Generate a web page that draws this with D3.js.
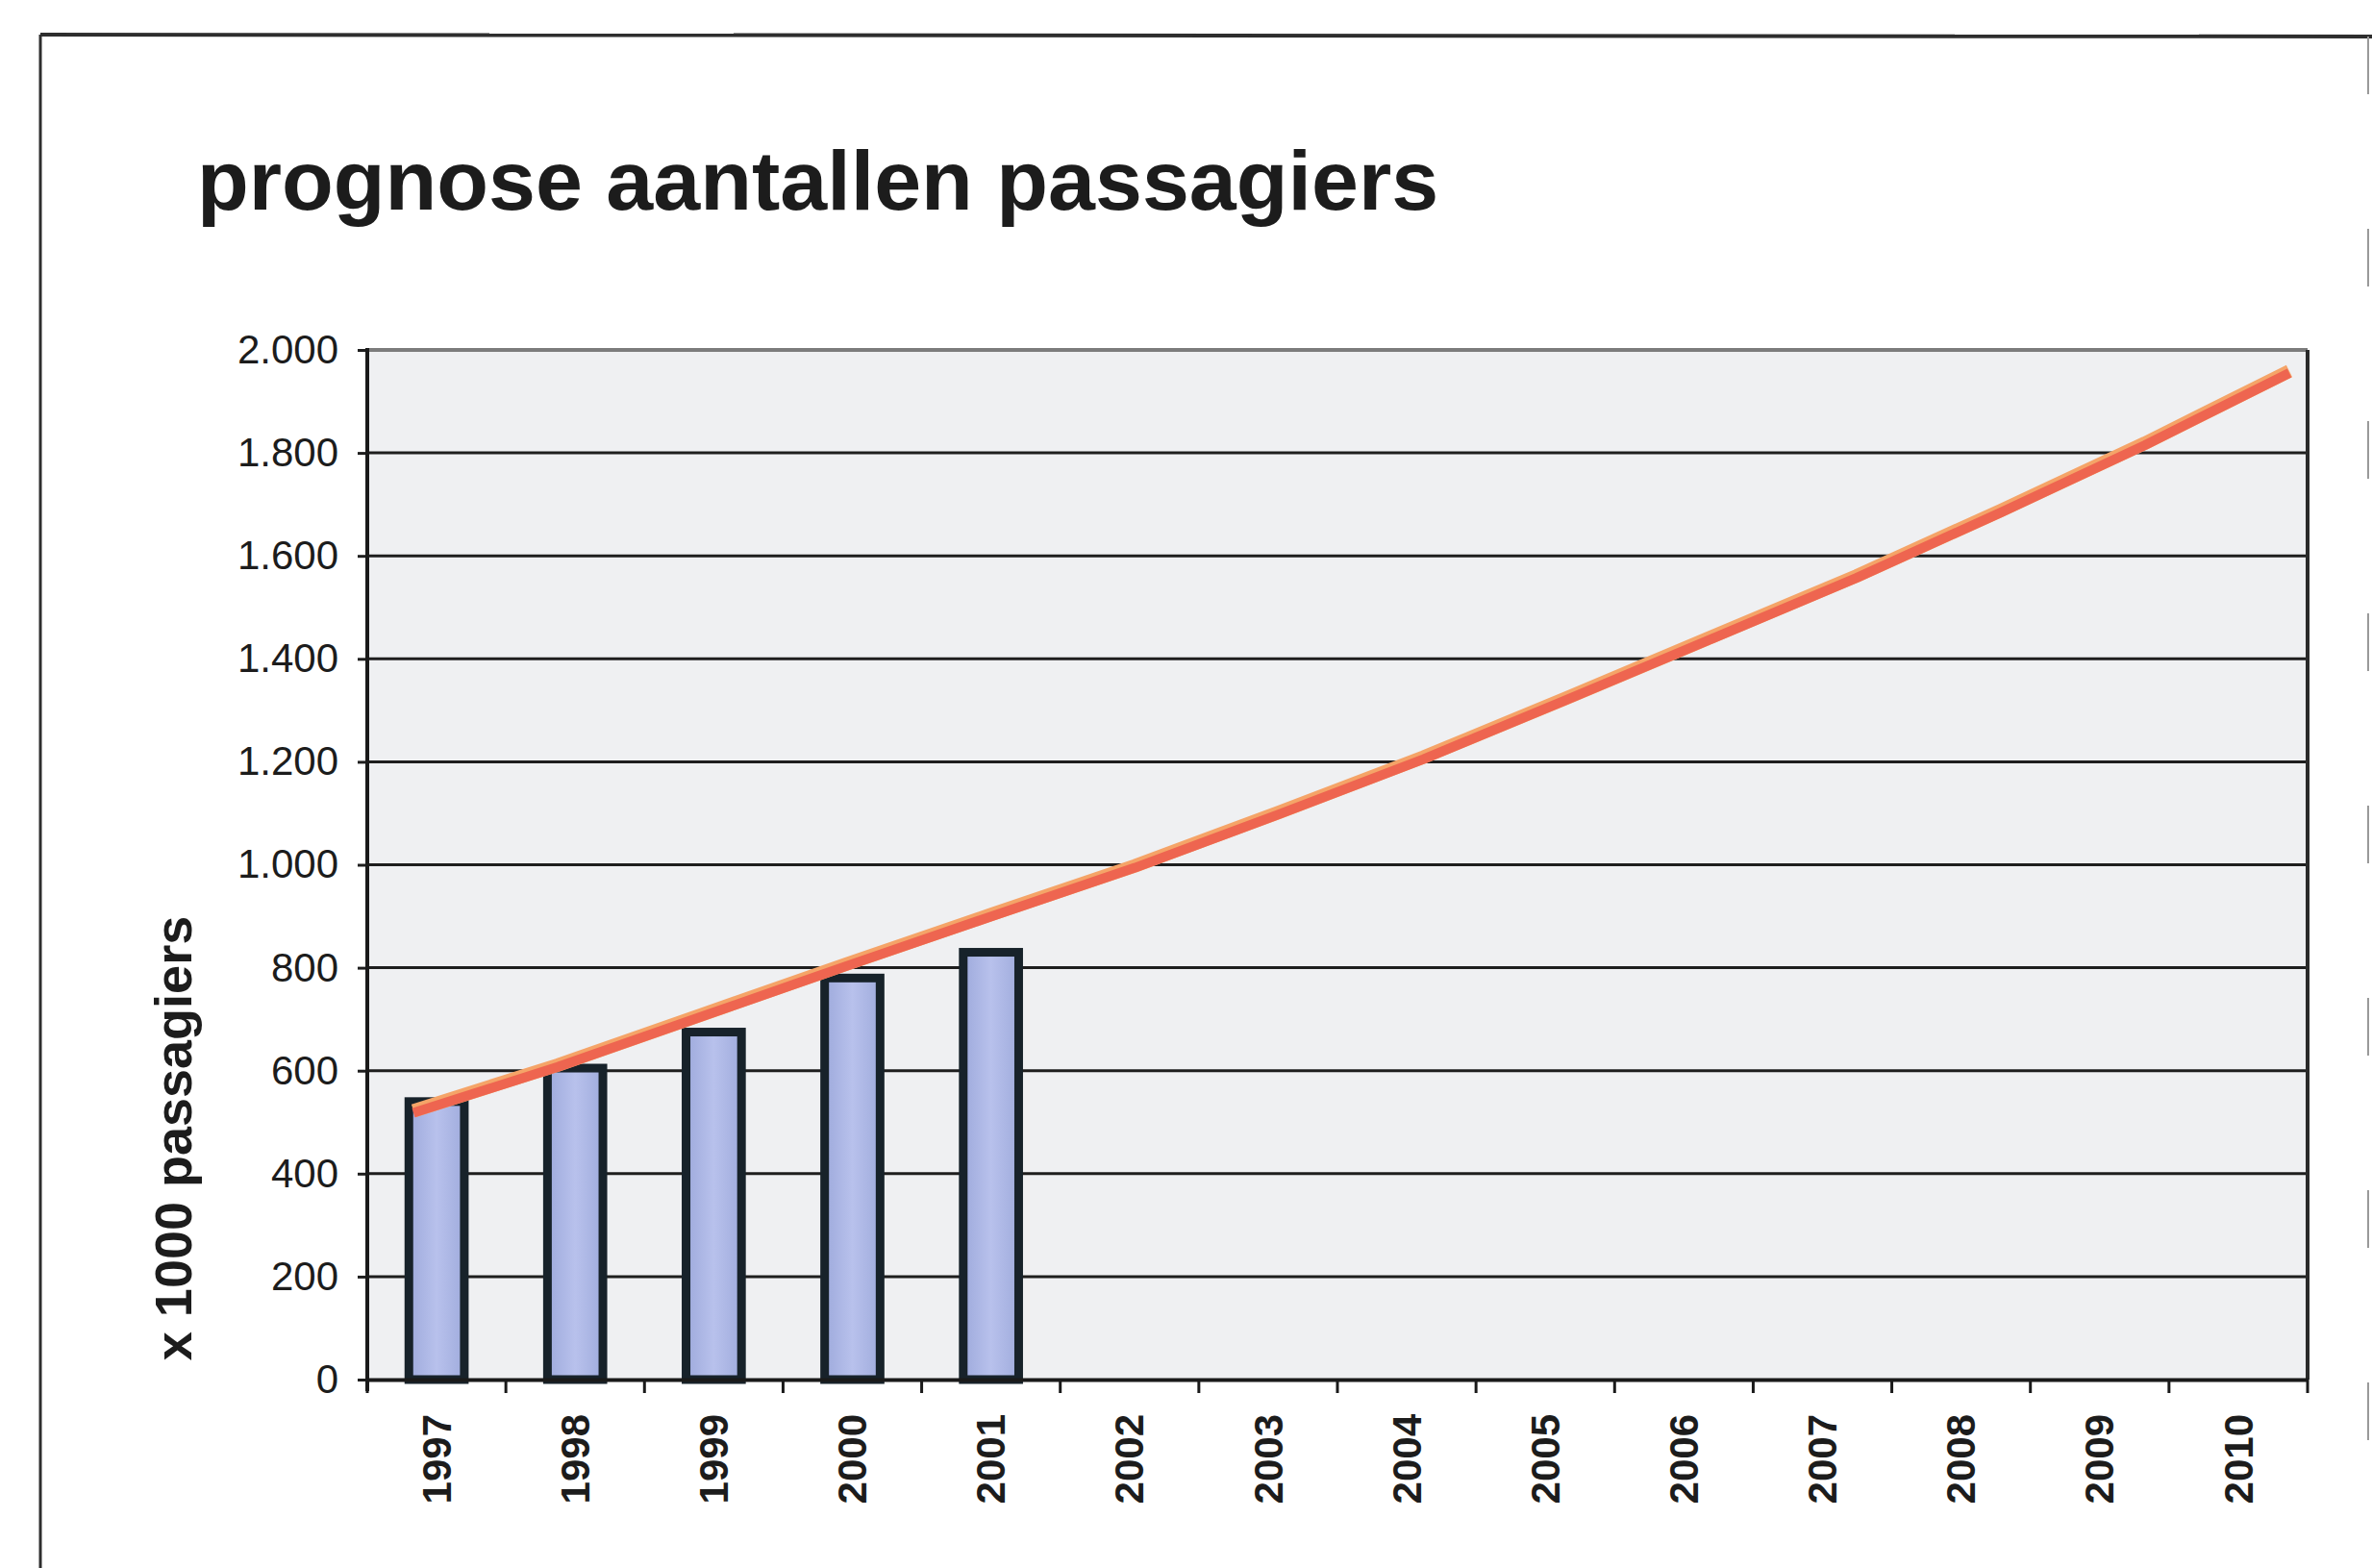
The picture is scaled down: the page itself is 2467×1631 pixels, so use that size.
<!DOCTYPE html>
<html>
<head>
<meta charset="utf-8">
<script src="https://cdn.jsdelivr.net/npm/d3@7"></script>
<style>
  html, body { margin: 0; padding: 0; background: #ffffff; }
  svg { display: block; }
  text { font-family: "Liberation Sans", Arial, sans-serif; fill: #1c1c1c; }
</style>
</head>
<body>
<svg id="chart" width="2467" height="1631"></svg>
<script>
// ---- data ----
const years = ["1997","1998","1999","2000","2001","2002","2003","2004","2005","2006","2007","2008","2009","2010"];
const barYears = ["1997","1998","1999","2000","2001"];
const barValues = [540, 605, 675, 780, 830];
const lineValues = [522, 611, 709, 807, 903, 998, 1102, 1209, 1325, 1443, 1561, 1688, 1819, 1959];
const yTicks = [0, 200, 400, 600, 800, 1000, 1200, 1400, 1600, 1800, 2000];
const titleText = "prognose aantallen passagiers";
const yTitle = "x 1000 passagiers";

// ---- layout ----
const W = 2467, H = 1631;
const plot = { left: 382, right: 2400, top: 364, bottom: 1435 };
const lineRange = [430, 2381];

const svg = d3.select("#chart");
const nl = d3.formatLocale({ decimal: ",", thousands: ".", grouping: [3], currency: ["€", ""] });
const fmt = nl.format(",d");

const x = d3.scaleBand().domain(years).range([plot.left, plot.right]).paddingInner(0.6).paddingOuter(0.3);
const xl = d3.scalePoint().domain(years).range(lineRange);
const y = d3.scaleLinear().domain([0, 2000]).range([plot.bottom, plot.top]);

// outer frame
svg.append("rect").attr("x", 0).attr("y", 0).attr("width", W).attr("height", H).attr("fill", "#ffffff");
svg.append("line").attr("x1", 42).attr("x2", W).attr("y1", 36).attr("y2", 38)
  .attr("stroke", "#2e2e2e").attr("stroke-width", 4);
svg.append("line").attr("x1", 42).attr("x2", 42).attr("y1", 36).attr("y2", H)
  .attr("stroke", "#2e2e2e").attr("stroke-width", 3);
svg.append("line").attr("x1", 2463).attr("x2", 2463).attr("y1", 38).attr("y2", H)
  .attr("stroke", "#9a9a9a").attr("stroke-width", 2).attr("stroke-dasharray", "60,140");

// title
svg.append("text").attr("x", 205).attr("y", 218)
  .attr("font-size", 88).attr("font-weight", "bold").text(titleText);

// plot background
svg.append("rect").attr("x", plot.left).attr("y", plot.top)
  .attr("width", plot.right - plot.left).attr("height", plot.bottom - plot.top)
  .attr("fill", "#eff0f2");

// gridlines
svg.append("g").selectAll("line").data(yTicks.filter(d => d > 0)).join("line")
  .attr("x1", plot.left).attr("x2", plot.right)
  .attr("y1", d => y(d)).attr("y2", d => y(d))
  .attr("stroke", d => d === 2000 ? "#7c7c7c" : "#1e1e1e")
  .attr("stroke-width", d => d === 2000 ? 4 : 3);

// right border of plot
svg.append("line").attr("x1", plot.right).attr("x2", plot.right)
  .attr("y1", plot.top).attr("y2", plot.bottom)
  .attr("stroke", "#2a2a2a").attr("stroke-width", 4);

// bar gradient
const defs = svg.append("defs");
const grad = defs.append("linearGradient").attr("id", "barGrad").attr("x1", "0%").attr("x2", "100%");
grad.append("stop").attr("offset", "0%").attr("stop-color", "#9eaadc");
grad.append("stop").attr("offset", "50%").attr("stop-color", "#b8c1ec");
grad.append("stop").attr("offset", "100%").attr("stop-color", "#a0acdd");

// bars
svg.append("g").selectAll("rect").data(barYears.map((d, i) => ({ year: d, v: barValues[i] }))).join("rect")
  .attr("x", d => x(d.year))
  .attr("width", x.bandwidth())
  .attr("y", d => y(d.v))
  .attr("height", d => y(0) - y(d.v))
  .attr("fill", "url(#barGrad)")
  .attr("stroke", "#17222a").attr("stroke-width", 9);

// trend line
const lineData = years.map((d, i) => ({ year: d, v: lineValues[i] }));
const lineGen = d3.line().x(d => xl(d.year)).y(d => y(d.v));
svg.append("path").datum(lineData).attr("d", lineGen)
  .attr("fill", "none").attr("stroke", "#f5a468").attr("stroke-width", 14)
  .attr("stroke-linejoin", "round");
svg.append("path").datum(lineData).attr("d", lineGen)
  .attr("transform", "translate(0,2)")
  .attr("fill", "none").attr("stroke", "#ee6550").attr("stroke-width", 10)
  .attr("stroke-linejoin", "round");

// y axis
const yAxis = svg.append("g").attr("transform", `translate(${plot.left},0)`)
  .call(d3.axisLeft(y).tickValues(yTicks).tickSize(10).tickPadding(20).tickFormat(fmt));
yAxis.select(".domain").remove();
yAxis.selectAll(".tick line").attr("stroke", "#1e1e1e").attr("stroke-width", 3);
yAxis.selectAll(".tick text").attr("font-size", 42).attr("fill", "#1c1c1c")
  .style("font-family", "'Liberation Sans', Arial, sans-serif");
svg.append("line").attr("x1", plot.left).attr("x2", plot.left)
  .attr("y1", plot.top - 2).attr("y2", plot.bottom + 12)
  .attr("stroke", "#1a1a1a").attr("stroke-width", 4);

// x axis
const xAxis = svg.append("g").attr("transform", `translate(0,${plot.bottom})`)
  .call(d3.axisBottom(x).tickSize(0).tickFormat(""));
xAxis.select(".domain").attr("stroke", "#1a1a1a").attr("stroke-width", 4);
const bounds = d3.range(years.length + 1).map(i => x.range()[0] + i * x.step());
svg.append("g").selectAll("line").data(bounds).join("line")
  .attr("x1", d => d).attr("x2", d => d)
  .attr("y1", plot.bottom).attr("y2", plot.bottom + 14)
  .attr("stroke", "#1a1a1a").attr("stroke-width", 3);
svg.append("g").selectAll("text").data(years).join("text")
  .attr("transform", d => `translate(${x(d) + x.bandwidth() / 2},${plot.bottom + 36}) rotate(-90)`)
  .attr("text-anchor", "end").attr("dy", "0.35em")
  .attr("font-size", 42).attr("font-weight", "bold")
  .text(d => d);

// y title
svg.append("text")
  .attr("transform", `translate(199,1184) rotate(-90)`)
  .attr("text-anchor", "middle")
  .attr("font-size", 54).attr("font-weight", "bold")
  .text(yTitle);
</script>
</body>
</html>
